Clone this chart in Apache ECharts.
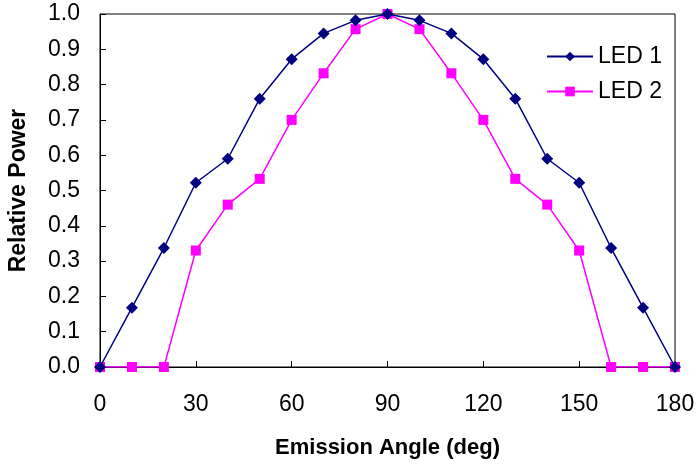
<!DOCTYPE html>
<html>
<head>
<meta charset="utf-8">
<script src="https://cdn.jsdelivr.net/npm/echarts@6/dist/echarts.min.js"></script>
<style>html,body{margin:0;padding:0;background:#fff}#c{width:698px;height:465px}</style>
</head>
<body>
<div id="c"></div>
<script>
var angles = [0, 10, 20, 30, 40, 50, 60, 70, 80, 90, 100, 110, 120, 130, 140, 150, 160, 170, 180];
var led1 = [0, 0.168, 0.337, 0.522, 0.59, 0.76, 0.872, 0.945, 0.982, 1.0, 0.982, 0.945, 0.872, 0.76, 0.59, 0.522, 0.337, 0.168, 0];
var led2 = [0, 0, 0, 0.33, 0.46, 0.533, 0.70, 0.832, 0.957, 1.0, 0.957, 0.832, 0.70, 0.533, 0.46, 0.33, 0, 0, 0];
var seriesNames = ['LED 1', 'LED 2'];
var xName = 'Emission Angle (deg)';
var yName = 'Relative Power';

function pairs(vals) { return angles.map(function (a, i) { return [a, vals[i]]; }); }

var font = 'Arial, "Liberation Sans", sans-serif';
var chart = echarts.init(document.getElementById('c'));
chart.setOption({
  animation: false,
  backgroundColor: '#fff',
  textStyle: { fontFamily: font },
  grid: { left: 100, top: 14, right: 23, bottom: 98, containLabel: false, outerBoundsMode: 'none', show: true, borderColor: '#000', borderWidth: 1, backgroundColor: 'transparent' },
  legend: {
    left: 541, top: 40, orient: 'vertical', itemWidth: 46, itemHeight: 12, itemGap: 12,
    textStyle: { fontSize: 23, color: '#000', fontFamily: font, padding: [0, 0, 0, 0] },
    data: seriesNames
  },
  xAxis: {
    type: 'value', min: 0, max: 180, interval: 30,
    name: xName, nameLocation: 'middle', nameGap: 70,
    nameTextStyle: { fontSize: 22, fontWeight: 'bold', color: '#000', fontFamily: font },
    axisLine: { lineStyle: { color: '#000', width: 1 } },
    axisTick: { inside: true, length: 6, lineStyle: { color: '#000' } },
    axisLabel: { fontSize: 23, color: '#000', margin: 26, fontFamily: font },
    splitLine: { show: false }
  },
  yAxis: {
    type: 'value', min: 0, max: 1, interval: 0.1,
    name: yName, nameLocation: 'middle', nameGap: 70,
    nameTextStyle: { fontSize: 23, fontWeight: 'bold', color: '#000', fontFamily: font },
    axisLine: { show: true, lineStyle: { color: '#000', width: 1 } },
    axisTick: { show: true, inside: true, length: 6, lineStyle: { color: '#000' } },
    axisLabel: { fontSize: 23, color: '#000', margin: 20, fontFamily: font, formatter: function (v) { return v.toFixed(1); } },
    splitLine: { show: false }
  },
  series: [
    {
      name: seriesNames[0], type: 'line', data: pairs(led1),
      symbol: 'diamond', symbolSize: 12,
      itemStyle: { color: '#000080' }, lineStyle: { color: '#000080', width: 1.5 },
      z: 3
    },
    {
      name: seriesNames[1], type: 'line', data: pairs(led2),
      symbol: 'rect', symbolSize: 10,
      itemStyle: { color: '#FF00FF' }, lineStyle: { color: '#FF00FF', width: 1.5 },
      z: 2
    }
  ]
});
</script>
</body>
</html>
